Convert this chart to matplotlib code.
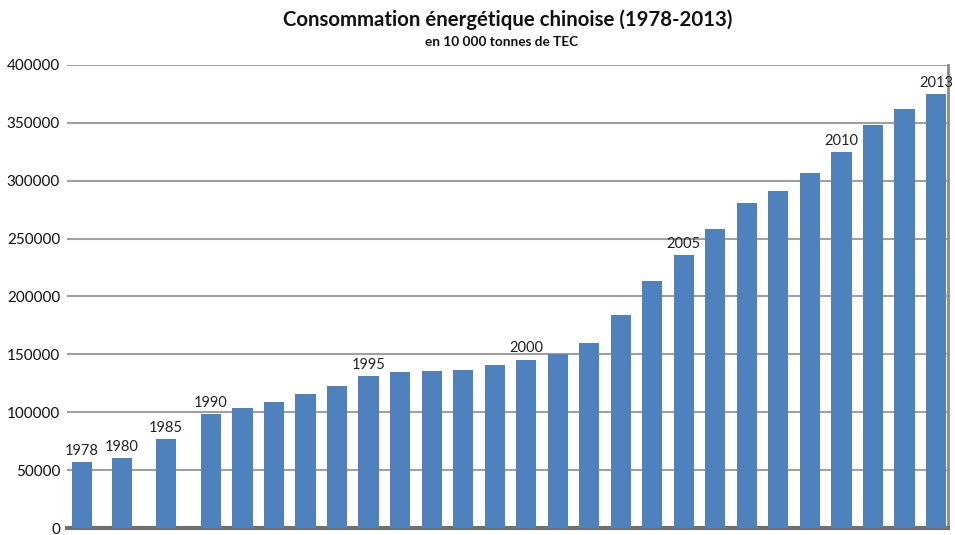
import matplotlib
matplotlib.use('Agg')
import matplotlib.pyplot as plt

# données: consommation énergétique chinoise, en 10 000 tonnes de TEC
years = [1978, 1980, 1985] + list(range(1990, 2014))
values = [57144, 60275, 76682, 98703, 103783, 109170, 115993, 122737, 131176,
          135192, 135909, 136184, 140569, 145531, 150406, 159431, 183792,
          213456, 235997, 258676, 280508, 291448, 306647, 324939, 348002,
          361732, 375000]
labelled = [1978, 1980, 1985, 1990, 1995, 2000, 2005, 2010, 2013]
yticks = [0, 50000, 100000, 150000, 200000, 250000, 300000, 350000, 400000]

# positions des barres (écarts irréguliers au début, comme l'original)
xpos = [0, 1.27, 2.67] + [4.09 + i for i in range(24)]

plt.rcParams['font.family'] = ['Lato', 'DejaVu Sans']
BLUE = '#4f81bd'

fig = plt.figure(figsize=(9.55, 5.35), dpi=100)
ax = fig.add_axes([67/955, 7/535, 881/955, 463/535])

ax.bar(xpos, values, width=0.64, color=BLUE, zorder=3)
for x, y, v in zip(xpos, years, values):
    if y in labelled:
        ax.text(x, v + 3500, str(y), ha='center', va='bottom', fontsize=10.5, color='#222222')

ax.set_xlim(-0.476, 27.47)
ax.set_ylim(0, 400000)
ax.set_yticks(yticks)
ax.set_yticklabels([str(t) for t in yticks], fontsize=11, color='#111111')
ax.set_xticks([])
ax.tick_params(axis='y', length=0, pad=5)
ax.grid(axis='y', color='#a0a0a0', linewidth=1.5, zorder=0)
for s in ['top', 'left']:
    ax.spines[s].set_visible(False)
ax.spines['bottom'].set_color('#707070')
ax.spines['bottom'].set_linewidth(3)
ax.spines['right'].set_color('#8a8a8a')
ax.spines['right'].set_linewidth(2)

fig.text(508/955, 1 - 20/535, 'Consommation énergétique chinoise (1978-2013)',
         ha='center', va='center', fontsize=14.7, fontweight='bold', color='#111111')
fig.text(502/955, 1 - 42/535, 'en 10 000 tonnes de TEC',
         ha='center', va='center', fontsize=9.8, fontweight='bold', color='#111111')

fig.savefig('out.png', dpi=100)
